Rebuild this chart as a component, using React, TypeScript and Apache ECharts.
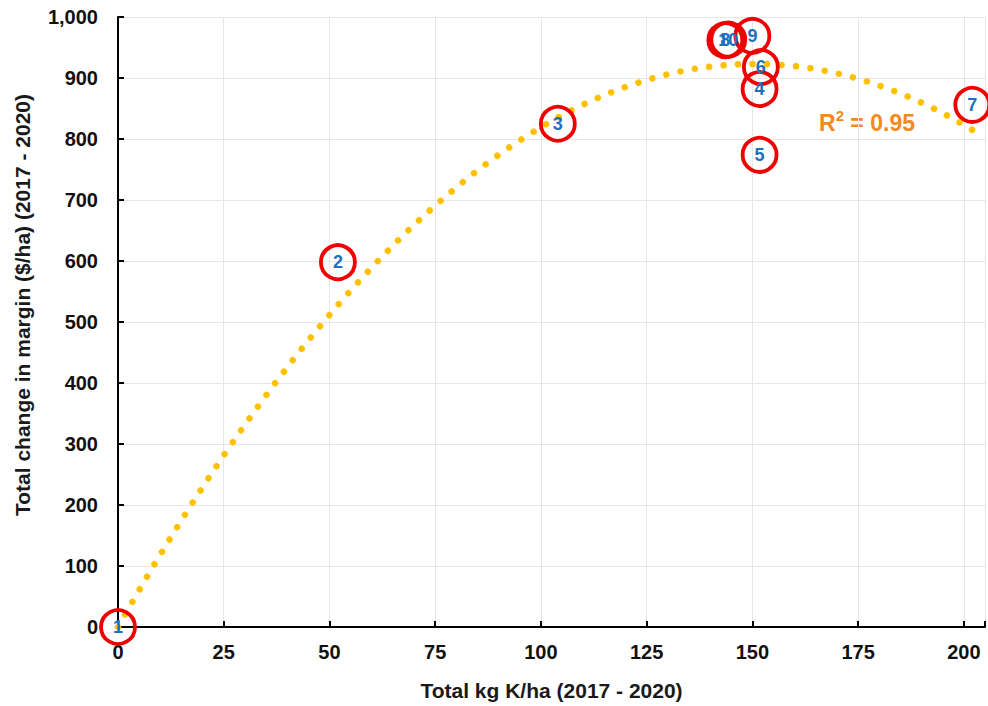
import React, { useEffect, useRef } from "react";
import * as echarts from "echarts";

const pointLabels = ["1", "2", "3", "4", "5", "6", "7", "8", "9", "10"];
const kgK = [0, 52, 104, 151.7, 151.7, 152, 202, 143.6, 150, 144.3];
const margin = [0, 598, 825, 882, 774, 918, 856, 962, 969, 963];
const xTicks = [0, 25, 50, 75, 100, 125, 150, 175, 200];
const yTicks = [0, 100, 200, 300, 400, 500, 600, 700, 800, 900, 1000];
const rSquaredValue = "0.95";

// Quadratic least-squares trendline through the origin (Excel polynomial, order 2, intercept = 0)
function quadFitOrigin(xs: number[], ys: number[]) {
  let s2 = 0, s3 = 0, s4 = 0, t1 = 0, t2 = 0;
  for (let i = 0; i < xs.length; i++) {
    const x = xs[i], y = ys[i];
    s2 += x * x; s3 += x * x * x; s4 += x * x * x * x;
    t1 += x * y; t2 += x * x * y;
  }
  const det = s2 * s4 - s3 * s3;
  const b = (t1 * s4 - s3 * t2) / det;
  const c = (s2 * t2 - s3 * t1) / det;
  return [b, c];
}

export default function App() {
  const ref = useRef<HTMLDivElement>(null);
  useEffect(() => {
    if (!ref.current) return;
    const chart = echarts.init(ref.current, null, { renderer: "svg" });
    const [b, c] = quadFitOrigin(kgK, margin);
    const trend: number[][] = [];
    const xMin = Math.min(...kgK), xMax = Math.max(...kgK);
    for (let i = 0; i <= 300; i++) {
      const x = xMin + ((xMax - xMin) * i) / 300;
      trend.push([x, b * x + c * x * x]);
    }
    const font = "'Liberation Sans', Arial, sans-serif";
    chart.setOption({
      animation: false,
      backgroundColor: "#fff",
      grid: { left: 118, right: 0, top: 17, bottom: 79, containLabel: false },
      xAxis: {
        type: "value",
        min: 0,
        max: 205,
        interval: 25,
        name: "Total kg K/ha (2017 - 2020)",
        nameLocation: "middle",
        nameGap: 53,
        nameTextStyle: { color: "#1a1a1a", fontSize: 21, fontWeight: "bold", fontFamily: font },
        axisLine: { show: true, onZero: false, lineStyle: { color: "#000", width: 2 } },
        axisTick: { show: true, inside: true, length: 6, lineStyle: { color: "#000", width: 2 } },
        axisLabel: {
          color: "#111",
          fontSize: 20,
          fontWeight: "bold",
          fontFamily: font,
          margin: 15,
          formatter: (v: number) => (xTicks.includes(v) ? String(v) : ""),
        },
        splitLine: { show: true, lineStyle: { color: "#e6e6e6", width: 1 } },
      },
      yAxis: {
        type: "value",
        min: 0,
        max: 1000,
        interval: 100,
        axisLine: { show: true, onZero: false, lineStyle: { color: "#000", width: 2 } },
        axisTick: { show: true, inside: true, length: 6, lineStyle: { color: "#000", width: 2 } },
        axisLabel: {
          color: "#111",
          fontSize: 20,
          fontWeight: "bold",
          fontFamily: font,
          margin: 20,
          formatter: (v: number) => (yTicks.includes(v) ? v.toLocaleString("en-US") : ""),
        },
        splitLine: { show: true, lineStyle: { color: "#e6e6e6", width: 1 } },
      },
      graphic: [
        {
          type: "text",
          x: 22,
          y: 305,
          rotation: Math.PI / 2,
          style: {
            text: "Total change in margin ($/ha) (2017 - 2020)",
            fill: "#1a1a1a",
            fontSize: 21,
            fontWeight: "bold",
            fontFamily: font,
            align: "center",
            verticalAlign: "middle",
          },
        },
        {
          type: "text",
          x: 867,
          y: 121,
          style: {
            text: "{r|R}{s|2}{r| = " + rSquaredValue + "}",
            fill: "#F28A1E",
            fontSize: 23,
            fontWeight: "bold",
            fontFamily: font,
            align: "center",
            verticalAlign: "middle",
            rich: {
              r: { fontSize: 23, fontWeight: "bold", fontFamily: font, fill: "#F28A1E", lineHeight: 26, verticalAlign: "bottom" },
              s: { fontSize: 15, fontWeight: "bold", fontFamily: font, fill: "#F28A1E", lineHeight: 26, verticalAlign: "top", padding: [0, 0, 8, 0] },
            },
          },
        },
      ],
      series: [
        {
          type: "line",
          data: trend,
          showSymbol: false,
          smooth: false,
          clip: false,
          z: 1,
          lineStyle: { color: "#FFC000", width: 6.5, type: [0.01, 14.5], cap: "round" },
        },
        {
          type: "scatter",
          z: 3,
          clip: false,
          symbol: "circle",
          symbolSize: 34,
          data: kgK.map((x, i) => ({ value: [x, margin[i]], name: pointLabels[i] })),
          itemStyle: { color: "rgba(255,255,255,0)", borderColor: "#F00000", borderWidth: 3.8, opacity: 1 },
          label: {
            show: true,
            position: "inside",
            formatter: (p: any) => p.name,
            color: "#1F6FBF",
            fontSize: 18,
            fontWeight: "bold",
            fontFamily: font,
            opacity: 1,
          },
        },
      ],
    });
    return () => chart.dispose();
  }, []);
  return <div ref={ref} style={{ width: 988, height: 706, position: "absolute", left: 0, top: 0 }} />;
}
